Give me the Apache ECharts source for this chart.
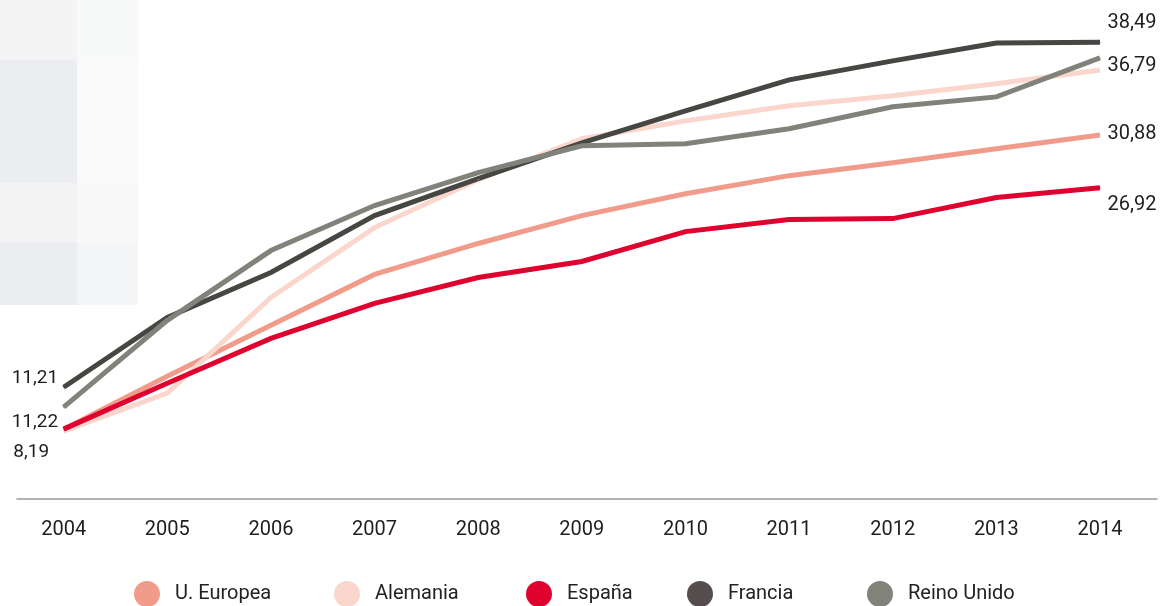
<!DOCTYPE html>
<html>
<head>
<meta charset="utf-8">
<script src="https://cdn.jsdelivr.net/npm/echarts@6/dist/echarts.min.js"></script>
<style>
html,body{margin:0;padding:0;background:#fff;}
#chart{width:1168px;height:606px;}
</style>
</head>
<body>
<div id="chart"></div>
<script>
// ---- data ----
const years = [2004, 2005, 2006, 2007, 2008, 2009, 2010, 2011, 2012, 2013, 2014];
const seriesNames = ['U. Europea', 'Alemania', 'España', 'Francia', 'Reino Unido'];
const ueValues       = [8.19, 12.29, 16.24, 20.19, 22.59, 24.75, 26.45, 27.85, 28.85, 29.94, 31.0];
const alemaniaValues = [8.03, 10.98, 18.41, 23.82, 27.54, 30.71, 32.10, 33.27, 34.04, 34.97, 36.05];
const espanaValues   = [8.19, 11.75, 15.23, 17.94, 19.95, 21.19, 23.51, 24.44, 24.52, 26.15, 26.92];
const franciaValues  = [11.44, 16.86, 20.34, 24.75, 27.62, 30.40, 32.88, 35.28, 36.75, 38.14, 38.2];
const ukValues       = [9.89, 16.63, 22.04, 25.53, 28.08, 30.17, 30.33, 31.49, 33.19, 33.96, 36.98];
const startLabels = { 'Francia': '11,21', 'Reino Unido': '11,22', 'España': '8,19' };
const endLabels   = { 'Francia': '38,49', 'Reino Unido': '36,79', 'U. Europea': '30,88', 'España': '26,92' };

// ---- styles ----
const lineColors = {
  'U. Europea': '#f19b8a',
  'Alemania': '#fad6cd',
  'España': '#e0022e',
  'Francia': '#464743',
  'Reino Unido': '#81837b'
};
const legendColors = {
  'U. Europea': '#f19b8a',
  'Alemania': '#fad6cd',
  'España': '#e0022e',
  'Francia': '#564d4e',
  'Reino Unido': '#81837b'
};
const startOffsets = { 'Francia': [0, -9], 'Reino Unido': [0, 15], 'España': [-9, 23] };
const endOffsets = { 'Francia': [0, -19], 'Reino Unido': [0, 8], 'U. Europea': [0, -1], 'España': [0, 17] };
const legendLefts = [134, 334, 526, 687, 867];
const valuesByName = {
  'U. Europea': ueValues,
  'Alemania': alemaniaValues,
  'España': espanaValues,
  'Francia': franciaValues,
  'Reino Unido': ukValues
};
const FONT = 'Roboto, "Noto Sans", sans-serif';

function buildData(name) {
  const vals = valuesByName[name];
  return vals.map((v, i) => {
    const item = { value: [years[i], v] };
    if (i === 0 && startLabels[name]) {
      item.label = { show: true, position: 'left', distance: 5, offset: startOffsets[name],
        formatter: startLabels[name], fontSize: 19, color: '#1e1e1e', fontFamily: FONT };
    }
    if (i === vals.length - 1 && endLabels[name]) {
      item.label = { show: true, position: 'right', distance: 7, offset: endOffsets[name],
        formatter: endLabels[name], fontSize: 20, color: '#1e1e1e', fontFamily: FONT };
    }
    return item;
  });
}

const series = seriesNames.map(name => ({
  name: name,
  type: 'line',
  data: buildData(name),
  symbol: 'circle',
  symbolSize: 1,
  showSymbol: true,
  itemStyle: { color: lineColors[name] },
  lineStyle: { color: lineColors[name], width: 5, cap: 'butt', join: 'miter' },
  label: { show: false },
  emphasis: { disabled: true },
  silent: true
}));

const legends = seriesNames.map((name, i) => ({
  data: [{ name: name, itemStyle: { color: legendColors[name] } }],
  left: legendLefts[i],
  top: 581,
  padding: 0,
  icon: 'circle',
  itemWidth: 26,
  itemHeight: 26,
  itemGap: 0,
  selectedMode: false,
  textStyle: { fontSize: 20, color: '#222', fontFamily: FONT, padding: [0, 0, 0, 10] }
}));

// faint background blocks (top-left)
const blocks = [
  [0, 0, 77, 60, '#f4f4f5'], [77, 0, 61, 60, '#f8f9f9'],
  [0, 60, 77, 123, '#ecedf0'], [77, 60, 61, 123, '#fafafa'],
  [0, 183, 77, 60, '#f3f3f4'], [77, 183, 61, 60, '#f8f8f8'],
  [0, 243, 77, 62, '#ecedf0'], [77, 243, 61, 62, '#f4f5f6']
];

const chart = echarts.init(document.getElementById('chart'), null, { renderer: 'canvas' });
chart.setOption({
  animation: false,
  backgroundColor: '#ffffff',
  graphic: blocks.map(b => ({
    type: 'rect', z: -10, silent: true,
    shape: { x: b[0], y: b[1], width: b[2], height: b[3] },
    style: { fill: b[4] }
  })),
  grid: { left: 17, right: 11, top: 19, bottom: 107, containLabel: false },
  xAxis: {
    type: 'value',
    min: 2003.55,
    max: 2014.55,
    axisLine: { show: true, onZero: false, lineStyle: { color: '#9a9a9a', width: 1.5 } },
    axisTick: { show: false },
    splitLine: { show: false },
    axisLabel: {
      customValues: years,
      formatter: v => String(v),
      fontSize: 20, color: '#1e1e1e', fontFamily: FONT, margin: 21
    }
  },
  yAxis: {
    type: 'value',
    min: 2.77,
    max: 40,
    show: false,
    splitLine: { show: false }
  },
  legend: legends,
  series: series
});
</script>
</body>
</html>
